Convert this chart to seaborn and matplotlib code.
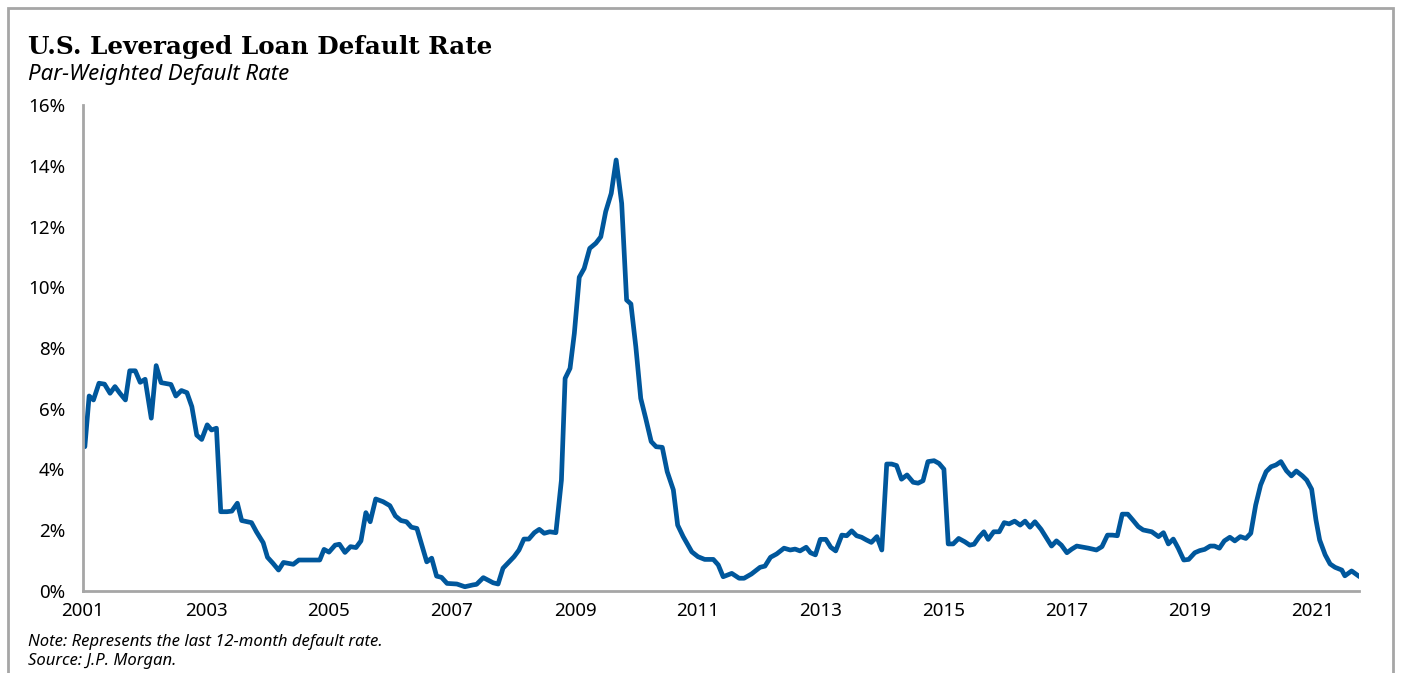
import numpy as np
import pandas as pd
import matplotlib
matplotlib.use("Agg")
import matplotlib.pyplot as plt
from matplotlib.patches import Rectangle
from matplotlib.ticker import PercentFormatter
import seaborn as sns

# par-weighted default rate (%), x in decimal years
years = [2001.03, 2001.10, 2001.17, 2001.26, 2001.35, 2001.44, 2001.52, 2001.60, 2001.69, 2001.76,
         2001.85, 2001.93, 2002.01, 2002.11, 2002.19, 2002.27, 2002.43, 2002.51, 2002.60, 2002.69,
         2002.77, 2002.85, 2002.93, 2003.02, 2003.09, 2003.17, 2003.24, 2003.34, 2003.42, 2003.51,
         2003.58, 2003.74, 2003.82, 2003.93, 2004.00, 2004.09, 2004.18, 2004.26, 2004.42, 2004.51,
         2004.66, 2004.85, 2004.92, 2005.00, 2005.10, 2005.17, 2005.26, 2005.35, 2005.44, 2005.52,
         2005.60, 2005.67, 2005.76, 2005.88, 2005.99, 2006.08, 2006.17, 2006.26, 2006.34, 2006.43,
         2006.51, 2006.59, 2006.67, 2006.75, 2006.83, 2006.92, 2007.08, 2007.21, 2007.34, 2007.40,
         2007.51, 2007.67, 2007.75, 2007.83, 2007.93, 2008.01, 2008.09, 2008.17, 2008.25, 2008.34,
         2008.42, 2008.50, 2008.59, 2008.69, 2008.78, 2008.84, 2008.92, 2008.99, 2009.07, 2009.15,
         2009.24, 2009.34, 2009.42, 2009.50, 2009.59, 2009.67, 2009.76, 2009.84, 2009.91, 2009.99,
         2010.07, 2010.15, 2010.24, 2010.32, 2010.42, 2010.50, 2010.60, 2010.67, 2010.76, 2010.90,
         2011.00, 2011.11, 2011.25, 2011.33, 2011.41, 2011.55, 2011.67, 2011.75, 2011.87, 2012.01,
         2012.09, 2012.18, 2012.28, 2012.40, 2012.50, 2012.58, 2012.66, 2012.76, 2012.83, 2012.91,
         2012.99, 2013.08, 2013.16, 2013.24, 2013.34, 2013.42, 2013.50, 2013.58, 2013.66, 2013.74,
         2013.82, 2013.91, 2013.99, 2014.07, 2014.15, 2014.23, 2014.31, 2014.40, 2014.50, 2014.58,
         2014.66, 2014.74, 2014.84, 2014.92, 2015.00, 2015.07, 2015.15, 2015.24, 2015.34, 2015.42,
         2015.49, 2015.57, 2015.65, 2015.72, 2015.81, 2015.90, 2015.98, 2016.06, 2016.15, 2016.24,
         2016.32, 2016.40, 2016.48, 2016.58, 2016.66, 2016.75, 2016.83, 2016.91, 2017.00, 2017.08,
         2017.16, 2017.35, 2017.48, 2017.57, 2017.66, 2017.74, 2017.82, 2017.90, 2017.99, 2018.07,
         2018.16, 2018.24, 2018.38, 2018.49, 2018.57, 2018.65, 2018.73, 2018.81, 2018.90, 2018.98,
         2019.08, 2019.16, 2019.24, 2019.33, 2019.40, 2019.48, 2019.56, 2019.65, 2019.73, 2019.82,
         2019.91, 2019.99, 2020.07, 2020.15, 2020.24, 2020.32, 2020.40, 2020.48, 2020.57, 2020.65,
         2020.73, 2020.83, 2020.90, 2020.98, 2021.05, 2021.11, 2021.20, 2021.28, 2021.36, 2021.47,
         2021.52, 2021.63, 2021.76]
rates = [4.75, 6.42, 6.29, 6.84, 6.81, 6.51, 6.73, 6.51, 6.29, 7.25,
         7.25, 6.87, 6.97, 5.69, 7.42, 6.86, 6.80, 6.42, 6.60, 6.53,
         6.07, 5.13, 4.99, 5.47, 5.30, 5.36, 2.61, 2.61, 2.63, 2.89,
         2.32, 2.25, 1.95, 1.59, 1.11, 0.91, 0.69, 0.94, 0.88, 1.02,
         1.02, 1.02, 1.37, 1.28, 1.51, 1.54, 1.27, 1.46, 1.43, 1.65,
         2.58, 2.28, 3.03, 2.94, 2.81, 2.47, 2.32, 2.28, 2.10, 2.06,
         1.51, 0.96, 1.08, 0.49, 0.45, 0.25, 0.23, 0.14, 0.20, 0.22,
         0.44, 0.27, 0.23, 0.75, 0.96, 1.13, 1.35, 1.71, 1.71, 1.92,
         2.03, 1.90, 1.95, 1.92, 3.65, 7.00, 7.33, 8.48, 10.33, 10.62,
         11.28, 11.45, 11.66, 12.49, 13.09, 14.19, 12.76, 9.58, 9.45, 8.04,
         6.34, 5.69, 4.92, 4.75, 4.73, 3.93, 3.33, 2.17, 1.79, 1.29,
         1.13, 1.04, 1.04, 0.86, 0.47, 0.58, 0.42, 0.42, 0.56, 0.78,
         0.82, 1.11, 1.22, 1.41, 1.35, 1.38, 1.32, 1.44, 1.26, 1.19,
         1.70, 1.70, 1.44, 1.32, 1.84, 1.82, 1.98, 1.82, 1.77, 1.68,
         1.60, 1.79, 1.35, 4.18, 4.18, 4.13, 3.68, 3.82, 3.58, 3.55,
         3.63, 4.26, 4.29, 4.20, 4.01, 1.55, 1.55, 1.73, 1.62, 1.51,
         1.54, 1.77, 1.95, 1.70, 1.95, 1.95, 2.25, 2.21, 2.30, 2.17,
         2.30, 2.10, 2.28, 2.03, 1.77, 1.48, 1.65, 1.51, 1.26, 1.38,
         1.48, 1.41, 1.35, 1.46, 1.84, 1.84, 1.82, 2.53, 2.53, 2.34,
         2.12, 2.01, 1.95, 1.79, 1.92, 1.55, 1.71, 1.41, 1.02, 1.04,
         1.26, 1.33, 1.37, 1.48, 1.48, 1.41, 1.65, 1.77, 1.65, 1.79,
         1.73, 1.90, 2.83, 3.49, 3.93, 4.09, 4.15, 4.26, 3.96, 3.79,
         3.95, 3.79, 3.65, 3.35, 2.34, 1.68, 1.19, 0.89, 0.78, 0.69,
         0.50, 0.66, 0.47]
tick_years = [2001, 2003, 2005, 2007, 2009, 2011, 2013, 2015, 2017, 2019, 2021]

df = pd.DataFrame({"year": years, "rate": rates})

sns.set_style("white")
plt.rcParams["font.family"] = ["Noto Sans", "DejaVu Sans"]
plt.rcParams["text.color"] = "black"

fig = plt.figure(figsize=(14.03, 6.73), dpi=100)
ax = fig.add_axes([83 / 1403, 1 - 591 / 673, 1276 / 1403, 486 / 673])

sns.lineplot(data=df, x="year", y="rate", ax=ax, color="#00579C", linewidth=3.4)

ax.set_xlim(2001, 2021.75)
ax.set_ylim(0, 16)
ax.set_yticks(np.arange(0, 17, 2))
ax.set_xticks(tick_years)
ax.set_xticklabels([str(y) for y in tick_years])
ax.yaxis.set_major_formatter(PercentFormatter(decimals=0))
ax.set_xlabel("")
ax.set_ylabel("")
ax.tick_params(axis="both", length=0, labelsize=13.5, colors="black")
ax.tick_params(axis="y", pad=13)
ax.tick_params(axis="x", pad=8)
for s in ["top", "right"]:
    ax.spines[s].set_visible(False)
for s in ["left", "bottom"]:
    ax.spines[s].set_color("#A6A6A6")
    ax.spines[s].set_linewidth(2)

# outer frame
fig.patches.append(Rectangle((8 / 1403, -0.1), 1385 / 1403, 1.1 - 8 / 673,
                             transform=fig.transFigure, fill=False,
                             edgecolor="#A6A6A6", linewidth=2, clip_on=False))

fig.text(28 / 1403, 1 - 54 / 673, "U.S. Leveraged Loan Default Rate",
         family="DejaVu Serif", fontweight="bold", fontsize=17.7, color="black")
fig.text(28 / 1403, 1 - 80 / 673, "Par-Weighted Default Rate",
         fontstyle="italic", fontsize=16, color="black")
fig.text(28 / 1403, 1 - 646 / 673, "Note: Represents the last 12-month default rate.",
         fontstyle="italic", fontsize=12, color="black")
fig.text(28 / 1403, 1 - 665 / 673, "Source: J.P. Morgan.",
         fontstyle="italic", fontsize=12, color="black")

fig.savefig("out.png", dpi=100)
